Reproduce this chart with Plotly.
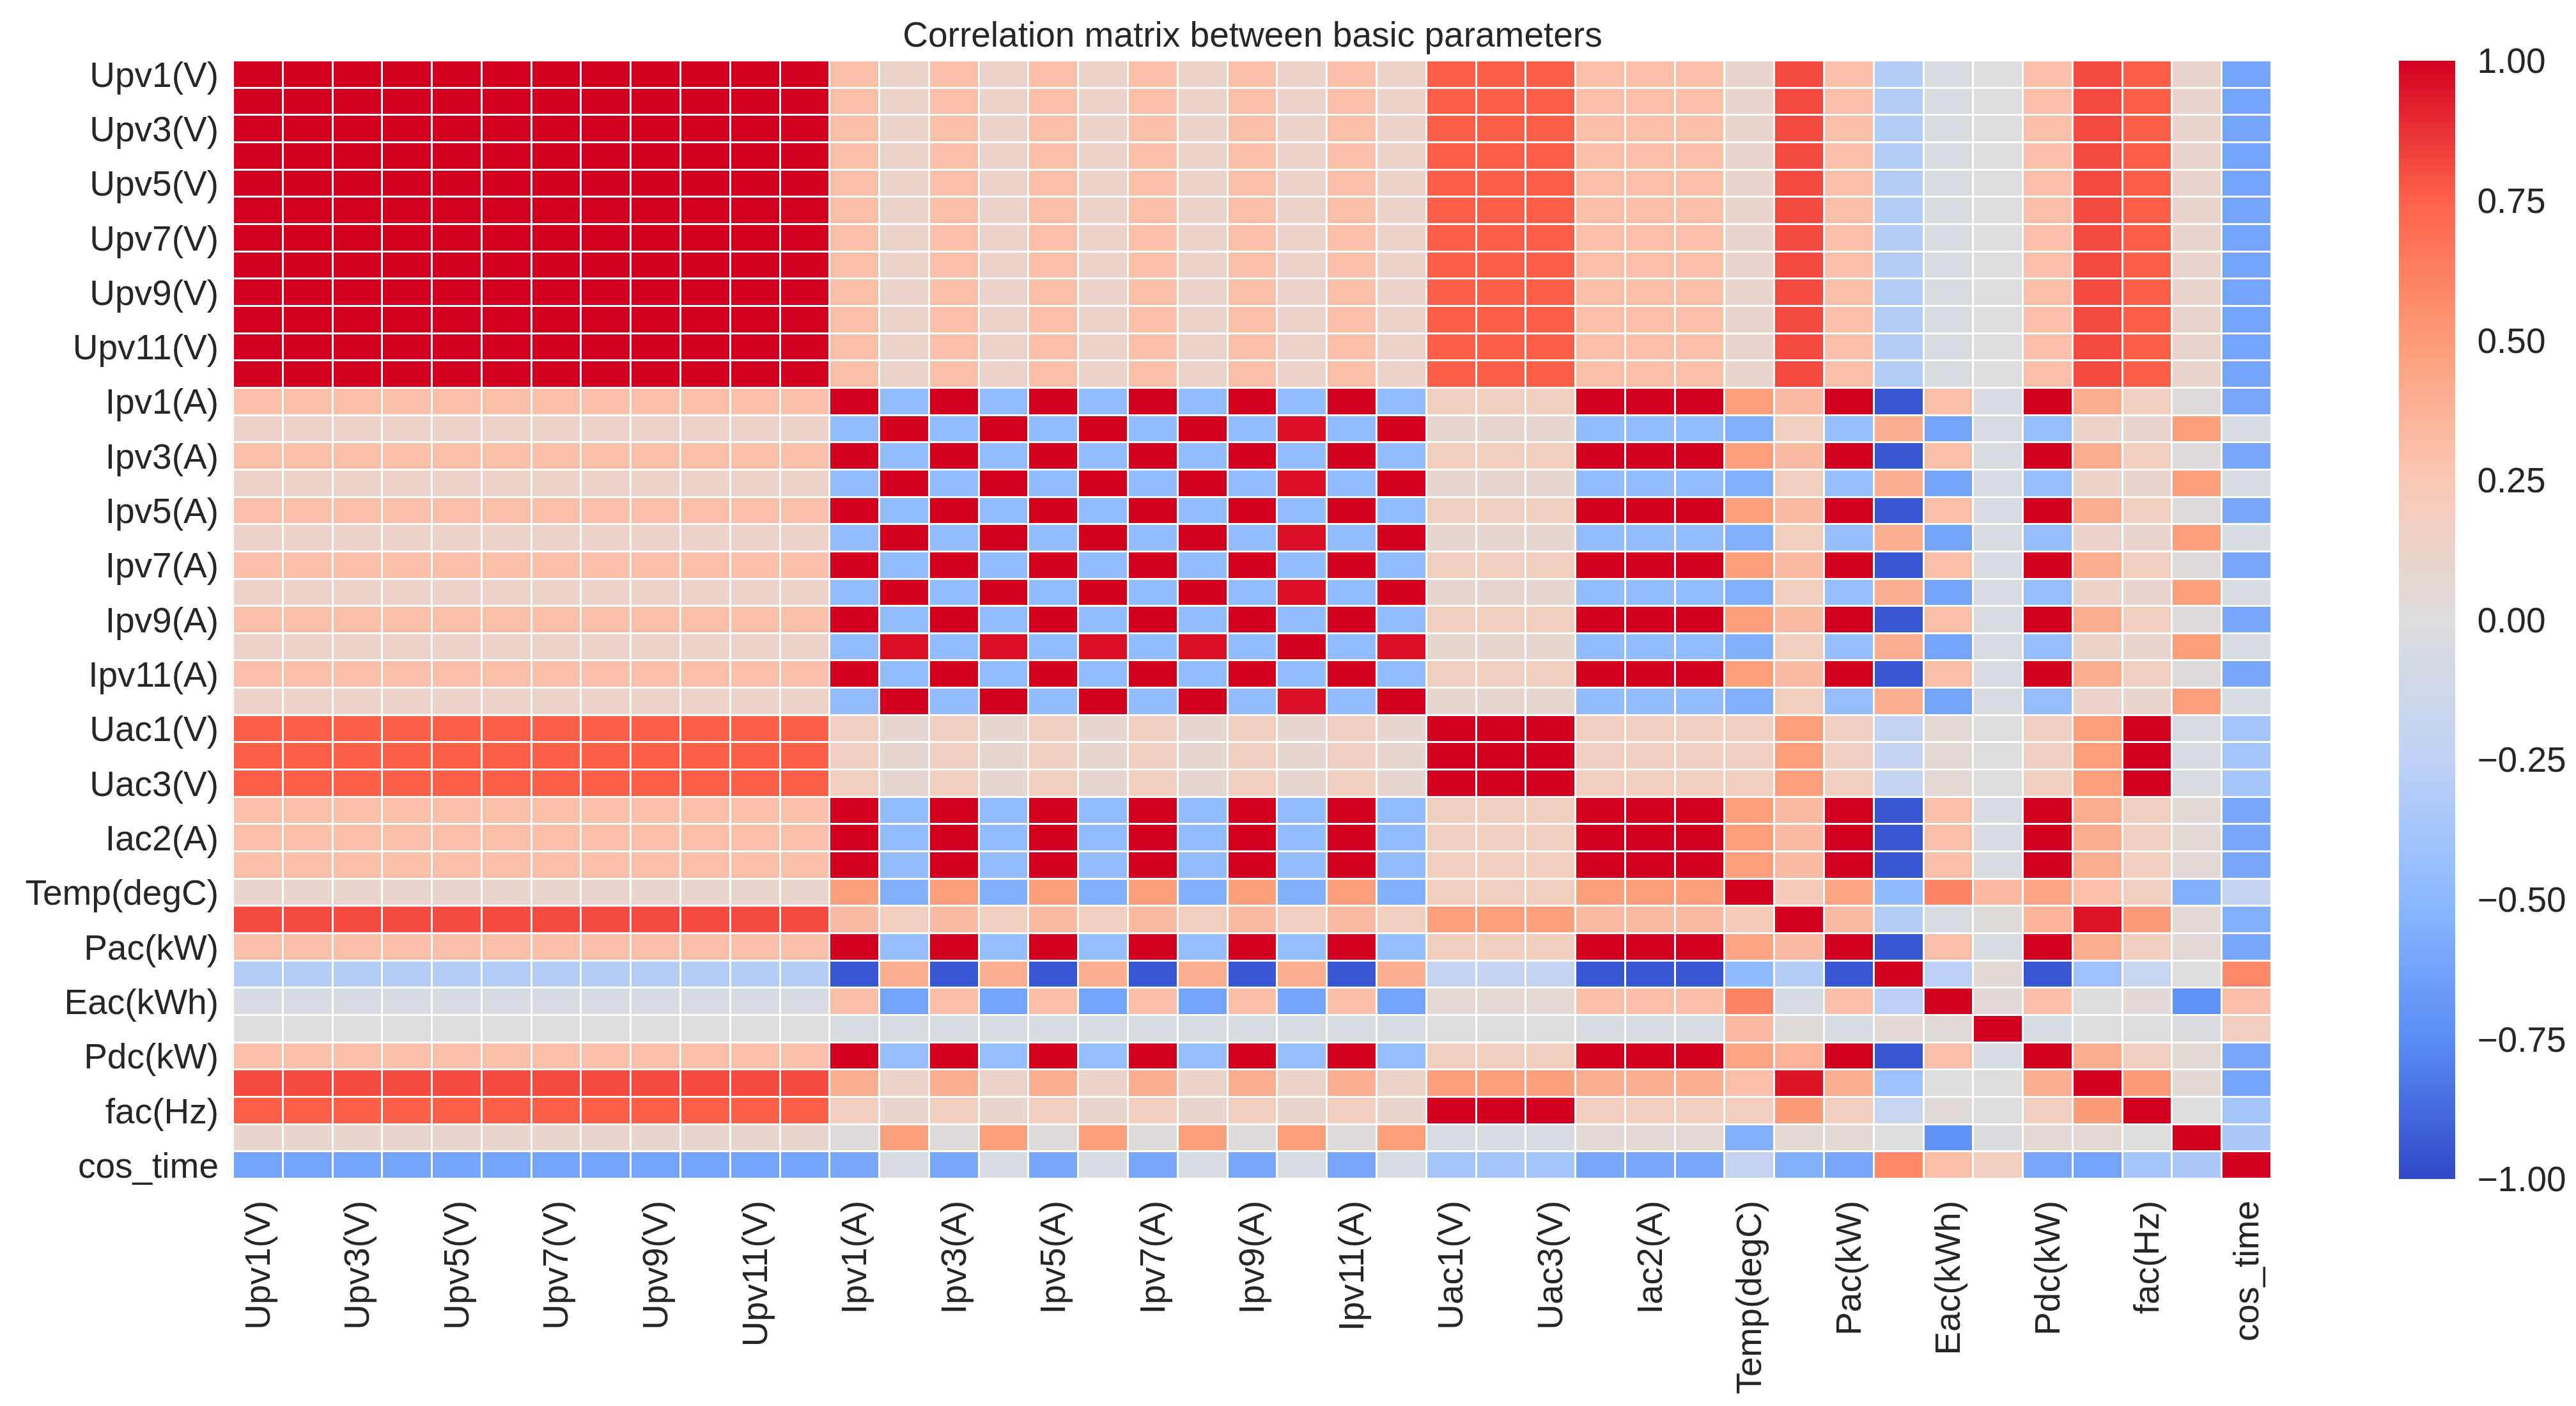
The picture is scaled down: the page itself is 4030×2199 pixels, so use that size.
import plotly.graph_objects as go

# Названия параметров (в порядке строк/столбцов матрицы)
params = ['Upv1(V)', 'Upv2(V)', 'Upv3(V)', 'Upv4(V)', 'Upv5(V)', 'Upv6(V)',
          'Upv7(V)', 'Upv8(V)', 'Upv9(V)', 'Upv10(V)', 'Upv11(V)', 'Upv12(V)',
          'Ipv1(A)', 'Ipv2(A)', 'Ipv3(A)', 'Ipv4(A)', 'Ipv5(A)', 'Ipv6(A)',
          'Ipv7(A)', 'Ipv8(A)', 'Ipv9(A)', 'Ipv10(A)', 'Ipv11(A)', 'Ipv12(A)',
          'Uac1(V)', 'Uac2(V)', 'Uac3(V)', 'Iac1(A)', 'Iac2(A)', 'Iac3(A)',
          'Temp(degC)', 'Udc(V)', 'Pac(kW)', 'Qac(kVar)', 'Eac(kWh)', 'Etotal(kWh)',
          'Pdc(kW)', 'Upv_avg(V)', 'fac(Hz)', 'sin_time', 'cos_time']

# Подписи, которые видны на осях (каждая вторая)
shown_labels = ['Upv1(V)', 'Upv3(V)', 'Upv5(V)', 'Upv7(V)', 'Upv9(V)', 'Upv11(V)',
                'Ipv1(A)', 'Ipv3(A)', 'Ipv5(A)', 'Ipv7(A)', 'Ipv9(A)', 'Ipv11(A)',
                'Uac1(V)', 'Uac3(V)', 'Iac2(A)', 'Temp(degC)', 'Pac(kW)',
                'Eac(kWh)', 'Pdc(kW)', 'fac(Hz)', 'cos_time']

cbar_vals = [-1.0, -0.75, -0.5, -0.25, 0.0, 0.25, 0.5, 0.75, 1.0]
cbar_text = ['\u22121.00', '\u22120.75', '\u22120.50', '\u22120.25', '0.00',
             '0.25', '0.50', '0.75', '1.00']

# Строки матрицы корреляции
row_upv = [1.0, 1.0, 1.0, 1.0, 1.0, 1.0, 1.0, 1.0, 1.0, 1.0, 1.0, 1.0,
           0.3, 0.12, 0.3, 0.12, 0.3, 0.12, 0.3, 0.12, 0.3, 0.12, 0.3, 0.12,
           0.76, 0.76, 0.76, 0.3, 0.3, 0.3,
           0.1, 0.81, 0.3, -0.3, -0.05, 0.0, 0.3, 0.81, 0.76, 0.1, -0.62]
row_ipv_odd = [0.3, 0.3, 0.3, 0.3, 0.3, 0.3, 0.3, 0.3, 0.3, 0.3, 0.3, 0.3,
               1.0, -0.47, 1.0, -0.47, 1.0, -0.47, 1.0, -0.47, 1.0, -0.47, 1.0, -0.47,
               0.18, 0.18, 0.18, 1.0, 1.0, 1.0,
               0.48, 0.32, 1.0, -0.95, 0.3, -0.05, 1.0, 0.4, 0.18, 0.02, -0.6]
row_ipv_even = [0.12, 0.12, 0.12, 0.12, 0.12, 0.12, 0.12, 0.12, 0.12, 0.12, 0.12, 0.12,
                -0.47, 1.0, -0.47, 1.0, -0.47, 1.0, -0.47, 1.0, -0.47, 0.96, -0.47, 1.0,
                0.08, 0.08, 0.08, -0.47, -0.47, -0.47,
                -0.55, 0.18, -0.45, 0.4, -0.62, -0.05, -0.45, 0.12, 0.1, 0.48, -0.05]
row_ipv10 = [0.12, 0.12, 0.12, 0.12, 0.12, 0.12, 0.12, 0.12, 0.12, 0.12, 0.12, 0.12,
             -0.47, 0.96, -0.47, 0.96, -0.47, 0.96, -0.47, 0.96, -0.47, 1.0, -0.47, 0.96,
             0.08, 0.08, 0.08, -0.47, -0.47, -0.47,
             -0.55, 0.18, -0.45, 0.4, -0.62, -0.05, -0.45, 0.12, 0.1, 0.48, -0.05]
row_uac = [0.76, 0.76, 0.76, 0.76, 0.76, 0.76, 0.76, 0.76, 0.76, 0.76, 0.76, 0.76,
           0.18, 0.08, 0.18, 0.08, 0.18, 0.08, 0.18, 0.08, 0.18, 0.08, 0.18, 0.08,
           1.0, 1.0, 1.0, 0.18, 0.18, 0.18,
           0.18, 0.48, 0.18, -0.2, 0.06, 0.0, 0.18, 0.48, 1.0, -0.05, -0.38]
row_iac = [0.3, 0.3, 0.3, 0.3, 0.3, 0.3, 0.3, 0.3, 0.3, 0.3, 0.3, 0.3,
           1.0, -0.47, 1.0, -0.47, 1.0, -0.47, 1.0, -0.47, 1.0, -0.47, 1.0, -0.47,
           0.18, 0.18, 0.18, 1.0, 1.0, 1.0,
           0.48, 0.32, 1.0, -0.95, 0.3, -0.05, 1.0, 0.4, 0.18, 0.05, -0.6]
row_temp = [0.1, 0.1, 0.1, 0.1, 0.1, 0.1, 0.1, 0.1, 0.1, 0.1, 0.1, 0.1,
            0.48, -0.55, 0.48, -0.55, 0.48, -0.55, 0.48, -0.55, 0.48, -0.55, 0.48, -0.55,
            0.18, 0.18, 0.18, 0.48, 0.48, 0.48,
            1.0, 0.22, 0.45, -0.48, 0.6, 0.33, 0.45, 0.3, 0.18, -0.55, -0.2]
row_udc = [0.81, 0.81, 0.81, 0.81, 0.81, 0.81, 0.81, 0.81, 0.81, 0.81, 0.81, 0.81,
           0.32, 0.18, 0.32, 0.18, 0.32, 0.18, 0.32, 0.18, 0.32, 0.18, 0.32, 0.18,
           0.48, 0.48, 0.48, 0.32, 0.32, 0.32,
           0.22, 1.0, 0.32, -0.3, -0.05, 0.03, 0.36, 0.95, 0.5, 0.05, -0.55]
row_pac = [0.3, 0.3, 0.3, 0.3, 0.3, 0.3, 0.3, 0.3, 0.3, 0.3, 0.3, 0.3,
           1.0, -0.45, 1.0, -0.45, 1.0, -0.45, 1.0, -0.45, 1.0, -0.45, 1.0, -0.45,
           0.18, 0.18, 0.18, 1.0, 1.0, 1.0,
           0.45, 0.32, 1.0, -0.95, 0.3, -0.05, 1.0, 0.4, 0.18, 0.05, -0.6]
row_qac = [-0.3, -0.3, -0.3, -0.3, -0.3, -0.3, -0.3, -0.3, -0.3, -0.3, -0.3, -0.3,
           -0.95, 0.4, -0.95, 0.4, -0.95, 0.4, -0.95, 0.4, -0.95, 0.4, -0.95, 0.4,
           -0.2, -0.2, -0.2, -0.95, -0.95, -0.95,
           -0.48, -0.3, -0.95, 1.0, -0.27, 0.05, -0.95, -0.42, -0.18, 0.0, 0.57]
row_eac = [-0.05, -0.05, -0.05, -0.05, -0.05, -0.05, -0.05, -0.05, -0.05, -0.05, -0.05, -0.05,
           0.3, -0.62, 0.3, -0.62, 0.3, -0.62, 0.3, -0.62, 0.3, -0.62, 0.3, -0.62,
           0.06, 0.06, 0.06, 0.3, 0.3, 0.3,
           0.6, -0.05, 0.3, -0.27, 1.0, 0.04, 0.3, 0.0, 0.04, -0.72, 0.3]
row_etot = [0.0, 0.0, 0.0, 0.0, 0.0, 0.0, 0.0, 0.0, 0.0, 0.0, 0.0, 0.0,
            -0.05, -0.05, -0.05, -0.05, -0.05, -0.05, -0.05, -0.05, -0.05, -0.05, -0.05, -0.05,
            0.0, 0.0, 0.0, -0.05, -0.05, -0.05,
            0.33, 0.03, -0.05, 0.05, 0.04, 1.0, -0.05, 0.0, 0.0, -0.02, 0.18]
row_pdc = [0.3, 0.3, 0.3, 0.3, 0.3, 0.3, 0.3, 0.3, 0.3, 0.3, 0.3, 0.3,
           1.0, -0.45, 1.0, -0.45, 1.0, -0.45, 1.0, -0.45, 1.0, -0.45, 1.0, -0.45,
           0.18, 0.18, 0.18, 1.0, 1.0, 1.0,
           0.45, 0.36, 1.0, -0.95, 0.3, -0.05, 1.0, 0.4, 0.18, 0.05, -0.6]
row_upvavg = [0.81, 0.81, 0.81, 0.81, 0.81, 0.81, 0.81, 0.81, 0.81, 0.81, 0.81, 0.81,
              0.4, 0.12, 0.4, 0.12, 0.4, 0.12, 0.4, 0.12, 0.4, 0.12, 0.4, 0.12,
              0.48, 0.48, 0.48, 0.4, 0.4, 0.4,
              0.3, 0.95, 0.4, -0.42, 0.0, 0.0, 0.4, 1.0, 0.5, 0.05, -0.62]
row_fac = [0.76, 0.76, 0.76, 0.76, 0.76, 0.76, 0.76, 0.76, 0.76, 0.76, 0.76, 0.76,
           0.18, 0.1, 0.18, 0.1, 0.18, 0.1, 0.18, 0.1, 0.18, 0.1, 0.18, 0.1,
           1.0, 1.0, 1.0, 0.18, 0.18, 0.18,
           0.18, 0.5, 0.18, -0.18, 0.04, 0.0, 0.18, 0.5, 1.0, 0.0, -0.38]
row_sin = [0.1, 0.1, 0.1, 0.1, 0.1, 0.1, 0.1, 0.1, 0.1, 0.1, 0.1, 0.1,
           0.02, 0.48, 0.02, 0.48, 0.02, 0.48, 0.02, 0.48, 0.02, 0.48, 0.02, 0.48,
           -0.05, -0.05, -0.05, 0.05, 0.05, 0.05,
           -0.55, 0.05, 0.05, 0.0, -0.72, -0.02, 0.05, 0.05, 0.0, 1.0, -0.35]
row_cos = [-0.62, -0.62, -0.62, -0.62, -0.62, -0.62, -0.62, -0.62, -0.62, -0.62, -0.62, -0.62,
           -0.6, -0.05, -0.6, -0.05, -0.6, -0.05, -0.6, -0.05, -0.6, -0.05, -0.6, -0.05,
           -0.38, -0.38, -0.38, -0.6, -0.6, -0.6,
           -0.2, -0.55, -0.6, 0.57, 0.3, 0.18, -0.6, -0.62, -0.38, -0.35, 1.0]

corr = [row_upv, row_upv, row_upv, row_upv, row_upv, row_upv,
        row_upv, row_upv, row_upv, row_upv, row_upv, row_upv,
        row_ipv_odd, row_ipv_even, row_ipv_odd, row_ipv_even, row_ipv_odd, row_ipv_even,
        row_ipv_odd, row_ipv_even, row_ipv_odd, row_ipv10, row_ipv_odd, row_ipv_even,
        row_uac, row_uac, row_uac, row_iac, row_iac, row_iac,
        row_temp, row_udc, row_pac, row_qac, row_eac, row_etot,
        row_pdc, row_upvavg, row_fac, row_sin, row_cos]

# "coolwarm" чуть ярче, как на оригинале
colors = [[0.0, 'rgb(48,72,200)'],
          [0.125, 'rgb(90,140,245)'],
          [0.25, 'rgb(140,185,255)'],
          [0.375, 'rgb(190,210,245)'],
          [0.5, 'rgb(221,221,221)'],
          [0.625, 'rgb(250,200,180)'],
          [0.75, 'rgb(252,155,120)'],
          [0.875, 'rgb(255,98,74)'],
          [1.0, 'rgb(212,0,32)']]

font = 'Liberation Sans, Arial, sans-serif'

fig = go.Figure(go.Heatmap(
    z=corr, x=params, y=params,
    zmin=-1, zmax=1,
    colorscale=colors,
    xgap=3, ygap=3,
    colorbar=dict(
        thickness=88, len=1, lenmode='fraction',
        x=1.0624, xanchor='left', y=0.5, yanchor='middle',
        xpad=0, ypad=0, outlinewidth=0,
        tickvals=cbar_vals, ticktext=cbar_text,
        ticks='outside', ticklen=24, tickcolor='rgba(0,0,0,0)',
        tickfont=dict(size=55, color='#262626', family=font),
    ),
))

fig.update_layout(
    width=4030, height=2199,
    margin=dict(l=357, r=484, t=87, b=363),
    paper_bgcolor='white',
    plot_bgcolor='white',
    title=dict(
        text='Correlation matrix between basic parameters',
        x=0.5, xref='paper', xanchor='center',
        y=1 - 46 / 2199, yref='container', yanchor='middle',
        font=dict(size=55, color='#262626', family=font),
    ),
)

fig.update_xaxes(
    tickmode='array', tickvals=shown_labels, ticktext=shown_labels,
    tickangle=-90, ticks='', showgrid=False, zeroline=False,
    ticklabelstandoff=22,
    tickfont=dict(size=55, color='#262626', family=font),
)
fig.update_yaxes(
    tickmode='array', tickvals=shown_labels, ticktext=shown_labels,
    autorange='reversed', ticks='', showgrid=False, zeroline=False,
    ticklabelstandoff=22,
    tickfont=dict(size=55, color='#262626', family=font),
)

fig.write_html("out.html")
